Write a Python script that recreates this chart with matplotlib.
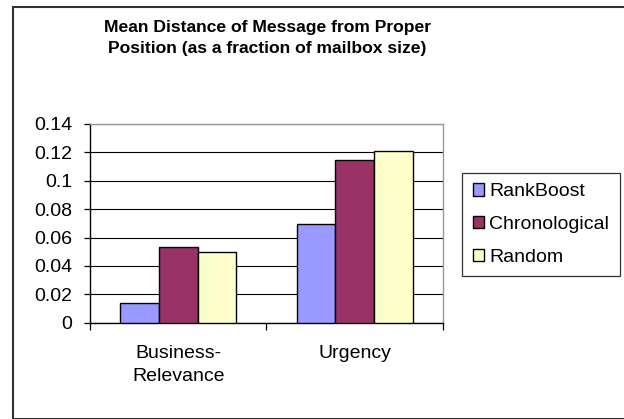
import matplotlib
matplotlib.use("Agg")
import matplotlib.pyplot as plt
from matplotlib.patches import Rectangle
import numpy as np

categories = ["Business-\nRelevance", "Urgency"]
series_names = ["RankBoost", "Chronological", "Random"]
rankboost = [0.0141, 0.0693]
chronological = [0.0535, 0.1146]
random_vals = [0.0500, 0.1212]
y_ticks = [0, 0.02, 0.04, 0.06, 0.08, 0.1, 0.12, 0.14]
y_tick_labels = ["0", "0.02", "0.04", "0.06", "0.08", "0.1", "0.12", "0.14"]
colors = ["#9999FF", "#993366", "#FFFFCC"]
title = "Mean Distance of Message from Proper\nPosition (as a fraction of mailbox size)"

plt.rcParams['font.family'] = ['Liberation Sans', 'DejaVu Sans']

W, H = 624, 419
fig = plt.figure(figsize=(W / 100, H / 100), dpi=100)
fig.patch.set_facecolor("white")

ax = fig.add_axes([90 / W, 1 - 322.7 / H, (443 - 90) / W, (322.7 - 124) / H])

x = np.arange(len(categories))
bw = 0.22
allvals = [rankboost, chronological, random_vals]
for i, (name, vals) in enumerate(zip(series_names, allvals)):
    ax.bar(x + (i - 1) * bw, vals, bw, color=colors[i], edgecolor="black",
           linewidth=1.0, label=name, zorder=3)

ax.set_xlim(-0.5, len(categories) - 0.5)
ax.set_ylim(0, 0.14)
ax.set_yticks(y_ticks)
ax.set_yticklabels(y_tick_labels)
ax.yaxis.grid(True, color="black", linewidth=0.8, zorder=0)
ax.set_axisbelow(True)

ax.set_xticks(np.arange(-0.5, len(categories), 1.0))
ax.set_xticklabels([])
ax.set_xticks(x, minor=True)
ax.set_xticklabels(categories, minor=True)
for lbl in ax.get_xticklabels(minor=True):
    lbl.set_linespacing(1.5)
ax.tick_params(axis="x", which="major", direction="out", length=5, width=0.9, color="black")
ax.tick_params(axis="x", which="minor", length=0, pad=16, labelsize=14)
ax.tick_params(axis="y", direction="out", length=4, width=0.9, pad=9, labelsize=14)

for s in ["left", "bottom"]:
    ax.spines[s].set_color("black")
    ax.spines[s].set_linewidth(1.0)
for s in ["top", "right"]:
    ax.spines[s].set_color("#999999")
    ax.spines[s].set_linewidth(1.0)

fig.text(267 / W, 1 - 38 / H, title, ha="center", va="center",
         fontsize=12.6, fontweight="bold", linespacing=1.55)

leg = fig.legend(loc="upper left", bbox_to_anchor=(462 / W, 1 - 172.7 / H),
                 fontsize=14, frameon=True, fancybox=False, edgecolor="black",
                 handlelength=0.6, handleheight=0.6, handletextpad=0.25,
                 labelspacing=0.8, borderpad=0.55, borderaxespad=0)
leg.get_frame().set_linewidth(0.9)

fig.add_artist(Rectangle((13 / W, 1 - 418.5 / H), 1.0, (418.5 - 7.5) / H,
                         transform=fig.transFigure, fill=False,
                         edgecolor="#333333", linewidth=1.5))

fig.savefig("out.png", dpi=100)
